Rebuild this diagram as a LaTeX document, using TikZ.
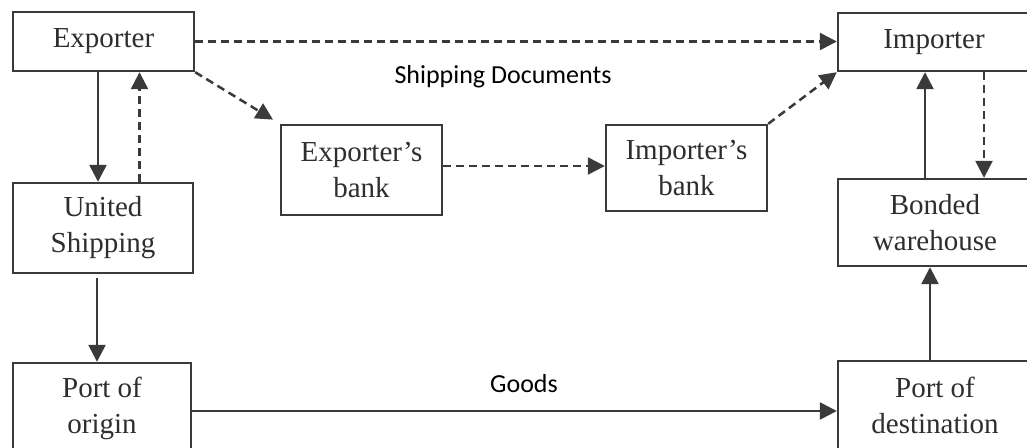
\documentclass[tikz,border=0pt]{standalone}
\usepackage{fontspec}
\setmainfont{Liberation Serif}
\newfontfamily\labelfont{Carlito}
\usetikzlibrary{arrows.meta}
\definecolor{ink}{HTML}{3A3A3A}
\definecolor{txt}{HTML}{2E2E2E}
\begin{document}
\begin{tikzpicture}[x=1pt,y=-1pt,
  box/.style={draw=ink,line width=2.4pt,fill=white,inner sep=0pt,align=center,
    text=txt,font=\fontsize{29}{36}\selectfont},
  link/.style={draw=ink,line width=2.5pt,-{Triangle[length=17pt,width=17pt]}},
  dlink/.style={link,dash pattern=on 8pt off 5pt},
  caption/.style={font=\labelfont\fontsize{26}{30}\selectfont,text=black,anchor=base,inner sep=0pt}]
\useasboundingbox (0,0) rectangle (1027,447);
\clip (0,0) rectangle (1027,447);
\fill[white] (0,0) rectangle (1027,447);

% boxes
\node[box,minimum width=181pt,minimum height=59pt] (exp) at (103.5,41.5) {Exporter};
\node[box,minimum width=180pt,minimum height=90pt] (ush) at (103,228) {United\\Shipping};
\node[box,minimum width=178pt,minimum height=90pt] (poo) at (102,408) {Port of\\origin};
\node[box,minimum width=161pt,minimum height=90pt] (ebk) at (361.5,170) {Exporter's\\bank};
\node[box,minimum width=161pt,minimum height=86pt] (ibk) at (686.5,168) {Importer's\\bank};
\node[box,minimum width=192pt,minimum height=58pt] (imp) at (934,42) {Importer};
\node[box,minimum width=194pt,minimum height=87pt] (bwh) at (935,222.5) {Bonded\\warehouse};
\node[box,minimum width=194pt,minimum height=89pt] (pod) at (935,405.5) {Port of\\destination};

% document flow
\draw[dlink] (exp.east) -- (exp.east -| imp.west);
\draw[dlink,shorten >=8pt] (exp.south east) -- (ebk.north west);
\draw[dlink] ([yshift=4pt]ebk.east) -- ([yshift=4pt]ebk.east -| ibk.west);
\draw[dlink] (ibk.north east) -- (imp.south west);
\draw[dlink] ([xshift=36.5pt]ush.north) -- ([xshift=36.5pt]ush.north |- exp.south);
\draw[dlink] ([xshift=50pt]imp.south) -- ([xshift=50pt]imp.south |- bwh.north);

% goods flow
\draw[link] ([xshift=-5.5pt]exp.south) -- ([xshift=-5.5pt]exp.south |- ush.north);
\draw[link,shorten <=4pt] ([xshift=-6pt]ush.south) -- ([xshift=-6pt]ush.south |- poo.north);
\draw[link] ([yshift=-3pt]poo.east) -- ([yshift=-3pt]poo.east -| pod.west);
\draw[link] ([xshift=-5pt]pod.north) -- ([xshift=-5pt]pod.north |- bwh.south);
\draw[link] ([xshift=-10pt]bwh.north) -- ([xshift=-10pt]bwh.north |- imp.south);

% labels
\node[caption] (docs) at (503,83) {Shipping Documents};
\node[caption] (goods) at (524,392) {Goods};
\end{tikzpicture}
\end{document}
